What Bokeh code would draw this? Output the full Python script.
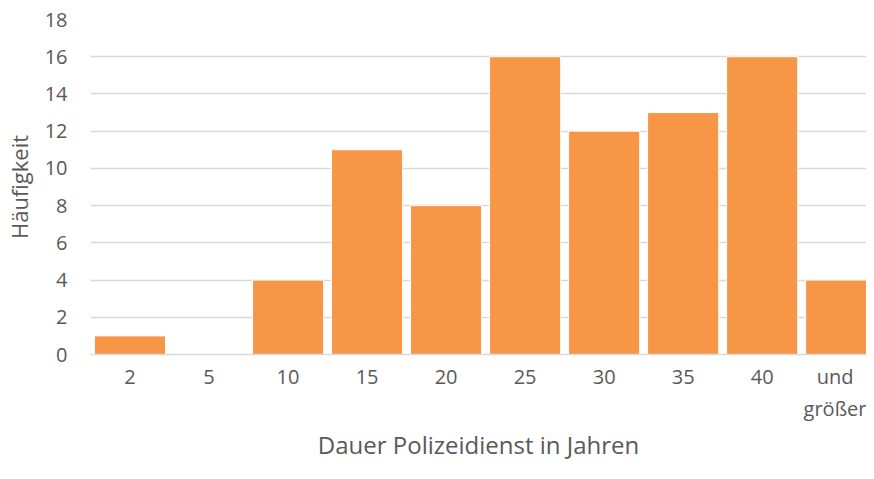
from bokeh.plotting import figure
from bokeh.models import FixedTicker, Range1d, ColumnDataSource
from bokeh.embed import file_html
from bokeh.resources import INLINE

categories = ["2", "5", "10", "15", "20", "25", "30", "35", "40", "und\ngrößer"]
counts = [1, 0, 4, 11, 8, 16, 12, 13, 16, 4]
y_ticks = list(range(0, 19, 2))

xs = list(range(len(categories)))
src = ColumnDataSource(dict(x=xs, top=counts))

p = figure(width=866, height=463, output_backend="svg", toolbar_location=None,
           x_range=Range1d(-0.5, 9.32), y_range=Range1d(0, 18),
           min_border_left=90, min_border_right=0, min_border_top=19, min_border_bottom=0)

p.vbar(x="x", top="top", width=0.9, source=src, fill_color="#F79646",
       line_color="white", line_width=1)

font = "Open Sans"
txt = "#595959"

p.xaxis.ticker = FixedTicker(ticks=xs)
p.xaxis.major_label_overrides = {i: c for i, c in enumerate(categories)}
p.xaxis.axis_label = "Dauer Polizeidienst in Jahren"
p.xaxis.axis_line_color = "#D9D9D9"
p.xaxis.axis_line_width = 1.5
p.xaxis.major_tick_line_color = None
p.xaxis.minor_tick_line_color = None
p.xaxis.major_label_standoff = 2
p.xaxis.axis_label_standoff = 3

p.yaxis.ticker = FixedTicker(ticks=y_ticks)
p.yaxis.axis_label = "Häufigkeit"
p.yaxis.axis_line_color = None
p.yaxis.major_tick_line_color = None
p.yaxis.minor_tick_line_color = None
p.yaxis.major_label_standoff = 17
p.yaxis.axis_label_standoff = 8

for ax in (p.xaxis, p.yaxis):
    ax.major_label_text_font = font
    ax.major_label_text_font_size = "20px"
    ax.major_label_text_color = txt
    ax.axis_label_text_font = font
    ax.axis_label_text_font_style = "normal"
    ax.axis_label_text_color = txt
p.xaxis.axis_label_text_font_size = "24px"
p.yaxis.axis_label_text_font_size = "22px"

p.xgrid.grid_line_color = None
p.ygrid.grid_line_color = "#D9D9D9"
p.ygrid.grid_line_width = 1.5
p.outline_line_color = None

open("out.html", "w").write(file_html(p, INLINE))
